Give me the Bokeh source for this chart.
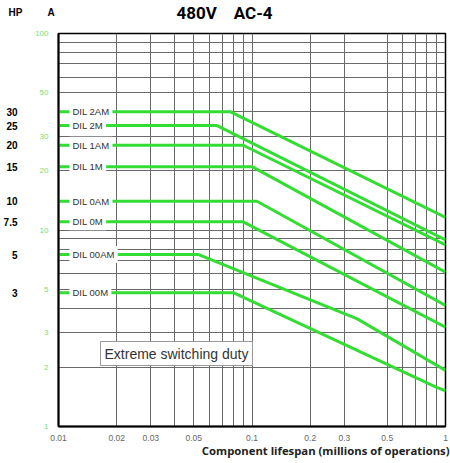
from bokeh.plotting import figure
from bokeh.models import Range1d, FixedTicker, CustomJSTickFormatter, Label, LogAxis
from bokeh.embed import file_html
from bokeh.resources import INLINE

# ---- data ----
names = ["DIL 2AM", "DIL 2M", "DIL 1AM", "DIL 1M", "DIL 0AM", "DIL 0M", "DIL 00AM", "DIL 00M"]
hp_values = ["30", "25", "20", "15", "10", "7.5", "5", "3"]
amps_flat = [40, 34, 27, 21, 14, 11, 7.5, 4.8]

lifespan_2AM = [0.01, 0.077, 1.0]
amps_2AM = [40, 40, 11.6]
lifespan_2M = [0.01, 0.066, 1.0]
amps_2M = [34, 34, 8.9]
lifespan_1AM = [0.01, 0.09, 1.0]
amps_1AM = [27, 27, 8.4]
lifespan_1M = [0.01, 0.1, 1.0]
amps_1M = [21, 21, 6.1]
lifespan_0AM = [0.01, 0.106, 1.0]
amps_0AM = [14, 14, 4.13]
lifespan_0M = [0.01, 0.09, 1.0]
amps_0M = [11, 11, 3.2]
lifespan_00AM = [0.01, 0.053, 0.35, 1.0]
amps_00AM = [7.5, 7.5, 3.53, 1.93]
lifespan_00M = [0.01, 0.08, 0.9, 1.0]
amps_00M = [4.8, 4.8, 1.58, 1.52]

series_x = [lifespan_2AM, lifespan_2M, lifespan_1AM, lifespan_1M,
            lifespan_0AM, lifespan_0M, lifespan_00AM, lifespan_00M]
series_y = [amps_2AM, amps_2M, amps_1AM, amps_1M,
            amps_0AM, amps_0M, amps_00AM, amps_00M]

x_ticks = [0.01, 0.02, 0.03, 0.05, 0.1, 0.2, 0.3, 0.5, 1]
y_ticks = [1, 2, 3, 5, 10, 20, 30, 50, 100]
x_grid = [0.01, 0.02, 0.03, 0.04, 0.05, 0.06, 0.07, 0.08, 0.09, 0.1,
          0.2, 0.3, 0.5, 0.6, 0.7, 0.8, 0.9, 1]
y_grid = [2, 3, 4, 5, 6, 7, 8, 9, 10, 20, 30, 40, 50, 60, 70, 80, 90, 100]

GREEN = "#33dd33"
NB = "\u00a0"

# frame geometry (pixels)
FL, FR, FT, FB = 58, 445, 33, 426


def dx(px):
    return 10 ** (-2 + (px - FL) / ((FR - FL) / 2))


def dy(py):
    return 10 ** (2 - (py - FT) / ((FB - FT) / 2))


p = figure(width=450, height=463, x_axis_type="log", y_axis_type="log",
           x_range=Range1d(0.01, 1), y_range=Range1d(1, 100),
           output_backend="svg", toolbar_location=None, title=None,
           min_border_left=FL, min_border_right=450 - FR,
           min_border_top=FT, min_border_bottom=463 - FB)
p.background_fill_color = "white"
p.border_fill_color = "white"
p.outline_line_color = "black"
p.outline_line_width = 1.5

# grids
p.xgrid.ticker = FixedTicker(ticks=x_grid)
p.ygrid.ticker = FixedTicker(ticks=y_grid)
for g in (p.xgrid, p.ygrid):
    g.grid_line_color = "#6a6a6a"
    g.grid_line_width = 1

# axes
fmt = CustomJSTickFormatter(code="return tick.toString()")
p.xaxis.ticker = FixedTicker(ticks=x_ticks)
p.yaxis.ticker = FixedTicker(ticks=y_ticks)
for ax in (p.xaxis, p.yaxis):
    ax.formatter = fmt
    ax.major_tick_line_color = None
    ax.minor_tick_line_color = None
    ax.major_tick_out = 0
    ax.major_tick_in = 0
    ax.axis_line_color = "black"
    ax.axis_line_width = 2
    ax.major_label_text_font = "Liberation Sans"
p.xaxis.major_label_text_font_size = "8.5px"
p.xaxis.major_label_text_color = "#666666"
p.xaxis.major_label_standoff = 8
p.yaxis.major_label_text_font_size = "8px"
p.yaxis.major_label_text_color = "#77dd77"
p.yaxis.major_label_standoff = 10

# HP scale as an outer left axis
hp_axis = LogAxis(ticker=FixedTicker(ticks=amps_flat),
                  formatter=CustomJSTickFormatter(
                      args=dict(t=amps_flat, l=hp_values),
                      code="const i = t.indexOf(tick); return i >= 0 ? l[i] : '';"),
                  axis_line_color=None, major_tick_line_color=None,
                  minor_tick_line_color=None, major_tick_out=0, major_tick_in=0,
                  major_label_standoff=15, major_label_text_font="Liberation Sans",
                  major_label_text_font_style="bold", major_label_text_font_size="10px",
                  major_label_text_color="black")
p.add_layout(hp_axis, "left")

# curves
for xs, ys in zip(series_x, series_y):
    p.line(xs, ys, line_color=GREEN, line_width=3)

# curve labels
for name, a in zip(names, amps_flat):
    p.add_layout(Label(x=0.01, y=a, x_offset=11, text=name,
                       text_font="Liberation Sans", text_font_size="9.5px",
                       text_color="#333333", text_align="left", text_baseline="middle",
                       background_fill_color="white", padding=3))

# box annotation
p.add_layout(Label(x=dx(100), y=dy(353), text="Extreme switching duty",
                   text_font="Liberation Sans", text_font_size="14px",
                   text_color="#333333", text_align="left", text_baseline="middle",
                   background_fill_color="white", border_line_color="#999999",
                   border_line_width=1, padding=4))

# headers (non-breaking spaces keep the gaps)
p.add_layout(Label(x=dx(8), y=dy(12), text="HP" + NB * 9 + "A",
                   text_font="Liberation Sans", text_font_style="bold",
                   text_font_size="10px", text_color="black",
                   text_baseline="middle", text_align="left"), "above")
p.add_layout(Label(x=dx(176), y=dy(12), text="480V" + NB * 4 + "AC-4",
                   text_font="Roboto", text_font_style="bold",
                   text_font_size="17px", text_color="black",
                   text_baseline="middle", text_align="left"), "above")
p.add_layout(Label(x=dx(449), y=dy(450), text="Component lifespan (millions of operations)",
                   text_font="Open Sans", text_font_style="bold", text_font_size="11.3px",
                   text_color="#222222", text_baseline="middle", text_align="right"),
             "below")

open("out.html", "w").write(file_html(p, INLINE))
